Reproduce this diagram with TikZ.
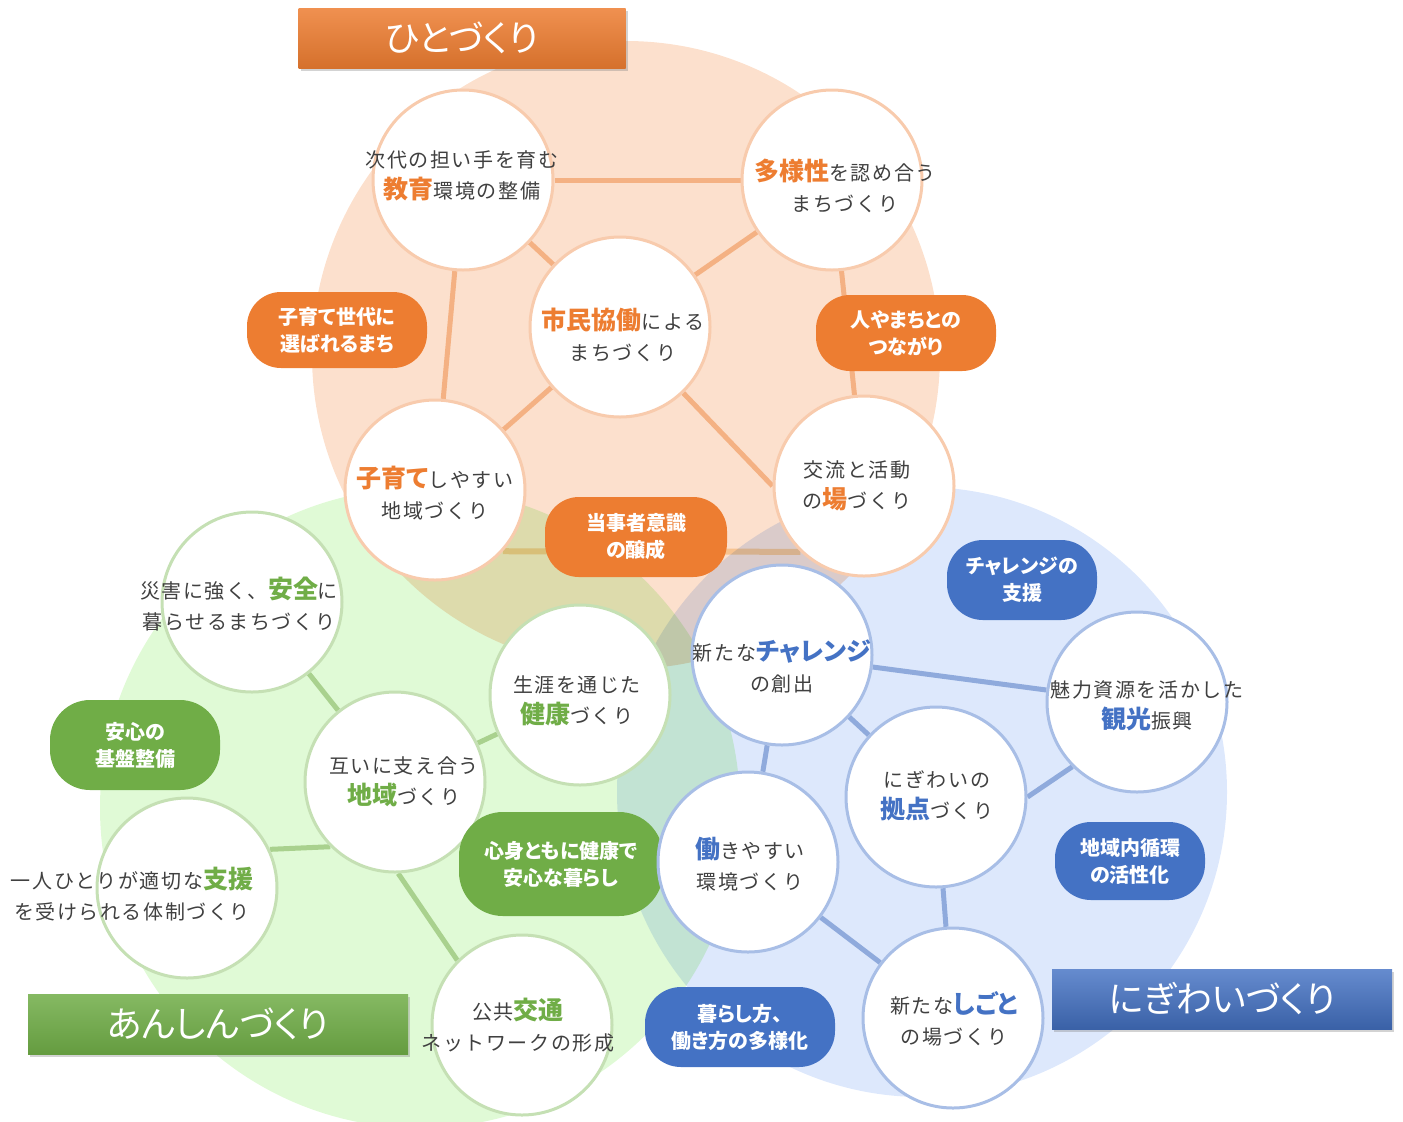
\documentclass[tikz,border=0pt]{standalone}
\usepackage{fontspec}
\setmainfont{Noto Sans CJK JP}
\newfontfamily\jpbody[LetterSpace=8]{Noto Sans CJK JP}
\newfontfamily\jpemph[RawFeature=+palt]{Noto Sans CJK JP}
\usepackage{tikz}
\usetikzlibrary{positioning,shapes.misc,shadows}
\pgfdeclarelayer{bg}
\pgfdeclarelayer{edge}
\pgfsetlayers{bg,edge,main}
\definecolor{hitoO}{RGB}{237,125,49}
\definecolor{anshinG}{RGB}{112,173,71}
\definecolor{nigiB}{RGB}{68,114,196}
\definecolor{bgO}{RGB}{252,224,205}
\definecolor{bgG}{RGB}{224,250,214}
\definecolor{bgB}{RGB}{221,232,252}
\definecolor{rimO}{RGB}{248,203,173}
\definecolor{rimG}{RGB}{197,224,180}
\definecolor{rimB}{RGB}{168,190,230}
\definecolor{lnO}{RGB}{244,177,131}
\definecolor{lnOsoft}{RGB}{250,222,180}
\definecolor{lnG}{RGB}{169,209,142}
\definecolor{lnB}{RGB}{143,170,220}
\definecolor{ink}{RGB}{64,64,64}
\newcommand{\hlO}[1]{{\jpemph\bfseries\fontsize{12.5}{16}\selectfont\color{hitoO}#1}}
\newcommand{\hlG}[1]{{\jpemph\bfseries\fontsize{12.5}{16}\selectfont\color{anshinG}#1}}
\newcommand{\hlB}[1]{{\jpemph\bfseries\fontsize{12.5}{16}\selectfont\color{nigiB}#1}}
\begin{document}
\begin{tikzpicture}[x=0.5pt,y=-0.5pt]
	\tikzstyle{ocirc}=[circle,draw=rimO,line width=1.5pt,fill=white,minimum size=90pt,inner sep=0pt]
	\tikzstyle{gcirc}=[ocirc,draw=rimG]
	\tikzstyle{bcirc}=[ocirc,draw=rimB]
	\tikzstyle{txt}=[align=center,text=ink,inner sep=0pt,font=\jpbody\fontsize{10}{15.5}\selectfont]
	\tikzstyle{pill}=[rectangle,rounded corners=17pt,inner sep=0pt,align=center,text=white,font=\jpemph\bfseries\fontsize{10}{13.5}\selectfont]
	\tikzstyle{ttl}=[rectangle,inner sep=0pt,minimum height=30pt,text=white,font=\jpemph\fontsize{18}{18}\selectfont,drop shadow={opacity=0.35,shadow xshift=1pt,shadow yshift=-1.5pt}]
	\tikzstyle{lo}=[draw=lnO,line width=2.5pt]
	\tikzstyle{lg}=[draw=lnG,line width=2.5pt]
	\tikzstyle{lb}=[draw=lnB,line width=2.5pt]
	\useasboundingbox (0,0) rectangle (1403,1121);

	\node[ocirc] (kyoiku) at (463,180) {};
	\node[ocirc] (tayo) at (832,180) {};
	\node[ocirc] (shimin) at (620,327) {};
	\node[ocirc] (kosodate) at (435,490) {};
	\node[ocirc] (koryu) at (864,486) {};
	\node[txt] (kyoiku-t) at (462,176) {次代の担い手を育む\\\hlO{教育}環境の整備};
	\node[txt] (tayo-t) at (845,186) {\hlO{多様性}を認め合う\\まちづくり};
	\node[txt] (shimin-t) at (623,335) {\hlO{市民協働}による\\まちづくり};
	\node[txt] (kosodate-t) at (435,493) {\hlO{子育て}しやすい\\地域づくり};
	\node[txt] (koryu-t) at (857,486) {交流と活動\\の\hlO{場}づくり};
	\node[pill,fill=hitoO,minimum width=90pt,minimum height=38pt] (sedai) at (337,330) {子育て世代に\\選ばれるまち};
	\node[pill,fill=hitoO,minimum width=90pt,minimum height=38pt] (tsunagari) at (906,333) {人やまちとの\\つながり};
	\node[pill,fill=hitoO,minimum width=91pt,minimum height=40pt] (tojisha) at (636,537) {当事者意識\\の醸成};

	\node[gcirc] (anzen) at (252,602) {};
	\node[gcirc] (kenko) at (580,695) {};
	\node[gcirc] (chiiki) at (395,782) {};
	\node[gcirc] (shien) at (187,888) {};
	\node[gcirc] (kotsu) at (522,1025) {};
	\node[txt] (anzen-t) at (239,604) {災害に強く、\hlG{安全}に\\暮らせるまちづくり};
	\node[txt] (kenko-t) at (577,701) {生涯を通じた\\\hlG{健康}づくり};
	\node[txt] (chiiki-t) at (404,782) {互いに支え合う\\\hlG{地域}づくり};
	\node[txt] (shien-t) at (132,894) {一人ひとりが適切な\hlG{支援}\\を受けられる体制づくり};
	\node[txt] (kotsu-t) at (518,1025) {公共\hlG{交通}\\ネットワークの形成};
	\node[pill,fill=anshinG,rounded corners=20pt,minimum width=85pt,minimum height=45pt] (kiban) at (135,745) {安心の\\基盤整備};
	\node[pill,fill=anshinG,rounded corners=22pt,minimum width=102pt,minimum height=52pt] (kurashi) at (561,864) {心身ともに健康で\\安心な暮らし};

	\node[bcirc] (challenge) at (782,655) {};
	\node[bcirc] (kanko) at (1137,702) {};
	\node[bcirc] (kyoten) at (936,797) {};
	\node[bcirc] (hataraki) at (748,862) {};
	\node[bcirc] (shigoto) at (953,1018) {};
	\node[txt] (challenge-t) at (782,666) {新たな\hlB{チャレンジ}\\の創出};
	\node[txt] (kanko-t) at (1147,706) {魅力資源を活かした\\\hlB{観光}振興};
	\node[txt] (kyoten-t) at (937,796) {にぎわいの\\\hlB{拠点}づくり};
	\node[txt] (hataraki-t) at (750,864) {\hlB{働}きやすい\\環境づくり};
	\node[txt] (shigoto-t) at (954,1019) {新たな\hlB{しごと}\\の場づくり};
	\node[pill,fill=nigiB,rounded corners=18pt,minimum width=75pt,minimum height=40pt] (shienC) at (1022,580) {チャレンジの\\支援};
	\node[pill,fill=nigiB,rounded corners=18pt,minimum width=75pt,minimum height=39pt] (junkan) at (1130,861) {地域内循環\\の活性化};
	\node[pill,fill=nigiB,rounded corners=18pt,minimum width=95pt,minimum height=40pt] (tayoka) at (740,1027) {暮らし方、\\働き方の多様化};

	\node[ttl,minimum width=163.5pt,top color=hitoO!85!white,bottom color=hitoO!90!black] (hito) at (462,38) {ひとづくり};
	\node[ttl,minimum width=190pt,top color=anshinG!85!white,bottom color=anshinG!90!black] (anshin) at (218,1024) {あんしんづくり};
	\node[ttl,minimum width=170pt,top color=nigiB!82!white,bottom color=nigiB!85!black] (nigiwai) at (1222,999) {にぎわいづくり};

	\begin{pgfonlayer}{edge}
	\draw[lo] (kyoiku) -- (tayo);
	\draw[lo] (kyoiku) -- (shimin);
	\draw[lo] (tayo) -- (shimin);
	\draw[lo] (kyoiku) -- (kosodate);
	\draw[lo] (tayo) -- (koryu);
	\draw[lo] (shimin) -- (kosodate);
	\draw[lo] (shimin) -- (koryu.west);
	\draw[lg] (anzen) -- (chiiki);
	\draw[lg] (kenko) -- (chiiki);
	\draw[lg] (shien.25) -- (chiiki.225);
	\draw[lg] (chiiki.-88) -- (kotsu.135);
	\draw[lb] (challenge) -- (kanko);
	\draw[lb] (challenge) -- (kyoten);
	\draw[lb] (challenge) -- (hataraki);
	\draw[lb] (kyoten.east) -- (kanko.225);
	\draw[lb] (kyoten) -- (shigoto);
	\draw[lb] (hataraki) -- (shigoto);
	\end{pgfonlayer}

	\begin{pgfonlayer}{bg}
	\begin{scope}[blend group=multiply]
	\fill[bgO] (626,355) circle (314);
	\draw[draw=lnOsoft,line width=3pt] (kosodate.-42) -- (koryu.-134);
	\fill[bgG] (420,808) circle (320);
	\fill[bgB] (922,792) circle (305);
	\end{scope}
	\end{pgfonlayer}
\end{tikzpicture}
\end{document}
